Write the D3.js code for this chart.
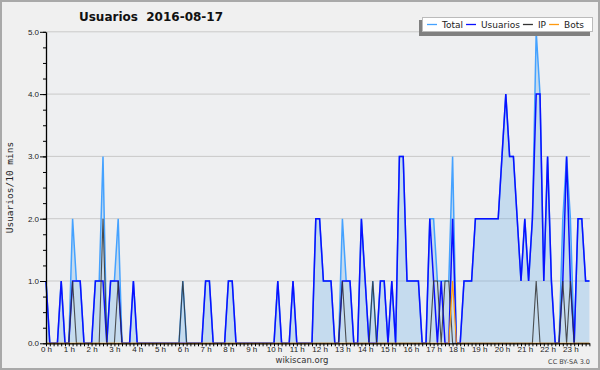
<!DOCTYPE html>
<html>
<head>
<meta charset="utf-8">
<script src="https://cdn.jsdelivr.net/npm/d3@7"></script>
<style>
  body { margin: 0; background: #f0f0f0; }
  svg { display: block; font-family: "DejaVu Sans", sans-serif; }
</style>
</head>
<body>
<svg id="chart"></svg>
<script>
// one value per 10 minutes, 00:00 .. 23:50 (6 per hour)
var total = [
  1,0,0,0,1,0,  0,2,1,1,0,0,  0,1,1,3,0,1,  1,2,0,0,0,1,   // 0-3 h
  0,0,0,0,0,0,  0,0,0,0,0,0,  1,0,0,0,0,0,  1,1,0,0,0,0,   // 4-7 h
  1,1,0,0,0,0,  0,0,0,0,0,0,  0,1,0,0,0,1,  0,0,0,0,0,2,   // 8-11 h
  2,1,1,1,0,0,  2,1,1,0,0,2,  1,0,1,0,1,1,  0,1,0,3,3,1,   // 12-15 h
  1,1,1,0,0,2,  2,1,1,1,1,3,  0,0,1,1,1,2,  2,2,2,2,2,2,   // 16-19 h
  3,4,3,3,2,1,  2,1,2,5,4,1,  3,1,0,0,2,3,  2,0,2,2,1,1    // 20-23 h
];
var usuarios = [
  1,0,0,0,1,0,  0,1,1,1,0,0,  0,1,1,1,0,1,  1,1,0,0,0,1,
  0,0,0,0,0,0,  0,0,0,0,0,0,  0,0,0,0,0,0,  1,1,0,0,0,0,
  1,1,0,0,0,0,  0,0,0,0,0,0,  0,1,0,0,0,1,  0,0,0,0,0,2,
  2,1,1,1,0,0,  1,1,1,0,0,2,  1,0,0,0,1,1,  0,1,0,3,3,1,
  1,1,1,0,0,2,  1,0,1,0,0,2,  0,0,1,1,1,2,  2,2,2,2,2,2,
  3,4,3,3,2,1,  2,1,2,4,4,1,  3,1,0,0,1,3,  1,0,2,2,1,1
];
var ip = [
  0,0,0,0,0,0,  0,1,0,0,0,0,  0,0,0,2,0,0,  0,1,0,0,0,0,
  0,0,0,0,0,0,  0,0,0,0,0,0,  1,0,0,0,0,0,  0,0,0,0,0,0,
  0,0,0,0,0,0,  0,0,0,0,0,0,  0,0,0,0,0,0,  0,0,0,0,0,0,
  0,0,0,0,0,0,  1,0,0,0,0,0,  0,0,1,0,0,0,  0,0,0,0,0,0,
  0,0,0,0,0,0,  1,1,0,1,1,0,  0,0,0,0,0,0,  0,0,0,0,0,0,
  0,0,0,0,0,0,  0,0,0,1,0,0,  0,0,0,0,1,0,  1,0,0,0,0,0
];
var bots = [
  0,0,0,0,0,0,  0,0,0,0,0,0,  0,0,0,0,0,0,  0,0,0,0,0,0,
  0,0,0,0,0,0,  0,0,0,0,0,0,  0,0,0,0,0,0,  0,0,0,0,0,0,
  0,0,0,0,0,0,  0,0,0,0,0,0,  0,0,0,0,0,0,  0,0,0,0,0,0,
  0,0,0,0,0,0,  0,0,0,0,0,0,  0,0,0,0,0,0,  0,0,0,0,0,0,
  0,0,0,0,0,0,  0,0,0,0,0,1,  0,0,0,0,0,0,  0,0,0,0,0,0,
  0,0,0,0,0,0,  0,0,0,0,0,0,  0,0,0,0,0,0,  0,0,0,0,0,0
];
var hourLabels = ["0 h","1 h","2 h","3 h","4 h","5 h","6 h","7 h","8 h","9 h","10 h","11 h",
  "12 h","13 h","14 h","15 h","16 h","17 h","18 h","19 h","20 h","21 h","22 h","23 h"];
var yTicks = [0, 1, 2, 3, 4, 5];
var seriesNames = ["Total", "Usuarios", "IP", "Bots"];
var seriesColors = ["#45a2ff", "#0a10ff", "#333333", "#ff9a10"];

var width = 600, height = 370;
var svg = d3.select("#chart").attr("width", width).attr("height", height);

svg.append("rect")
  .attr("x", 1).attr("y", 1)
  .attr("width", width - 2).attr("height", height - 2)
  .attr("fill", "#f0f0f0")
  .attr("stroke", "#a9a9a9")
  .attr("stroke-width", 2);

// minutes since midnight for each slot
var slots = total.map(function(d, i) { return i * 10; });

var x = d3.scaleLinear().domain([0, 1430]).range([46, 589.4]);
var y = d3.scaleLinear().domain([0, 5]).range([343.3, 31.8]);

svg.append("rect")
  .attr("x", x(0)).attr("y", y(5))
  .attr("width", 590 - x(0)).attr("height", y(0) - y(5))
  .attr("fill", "#eeeff1");

// gridlines
svg.append("g")
  .selectAll("line")
  .data(yTicks.slice(1))
  .enter()
  .append("line")
  .attr("x1", x(0)).attr("x2", 590)
  .attr("y1", function(d) { return y(d); })
  .attr("y2", function(d) { return y(d); })
  .attr("stroke", "#c9c9c9")
  .attr("stroke-width", 1);

var area = d3.area()
  .x(function(d, i) { return x(slots[i]); })
  .y0(y(0))
  .y1(function(d) { return y(d); });

svg.append("path")
  .datum(total)
  .attr("d", area)
  .attr("fill", "#66ade8")
  .attr("fill-opacity", 0.3);

var line = d3.line()
  .x(function(d, i) { return x(slots[i]); })
  .y(function(d) { return y(d); });

var series = [total, usuarios, ip, bots];
var widths = [1.5, 1.5, 1.1, 1.2];
series.forEach(function(s, k) {
  svg.append("path")
    .datum(s)
    .attr("d", line)
    .attr("fill", "none")
    .attr("stroke", seriesColors[k])
    .attr("stroke-width", widths[k])
    .attr("stroke-opacity", k == 2 ? 0.85 : 1)
    .attr("stroke-linejoin", "miter");
});

// axes
var xAxis = svg.append("g")
  .attr("transform", "translate(0," + y(0) + ")")
  .call(d3.axisBottom(x)
    .tickValues(slots)
    .tickSize(3)
    .tickSizeOuter(0)
    .tickPadding(0.5)
    .tickFormat(function(d) { return d % 60 == 0 ? hourLabels[d / 60] : ""; }));
xAxis.select(".domain").attr("stroke", "#000").attr("stroke-width", 1.3);
xAxis.selectAll("line").attr("stroke", "#000");
xAxis.selectAll("text").style("font-size", "8px").attr("fill", "#222");

var yMinor = svg.append("g")
  .attr("transform", "translate(" + x(0) + ",0)")
  .call(d3.axisLeft(y)
    .tickValues(d3.range(0, 5.01, 0.25))
    .tickSize(3)
    .tickSizeOuter(0)
    .tickFormat(""));
yMinor.select(".domain").remove();

var yAxis = svg.append("g")
  .attr("transform", "translate(" + x(0) + ",0)")
  .call(d3.axisLeft(y)
    .tickValues(yTicks)
    .tickSize(6)
    .tickSizeOuter(0)
    .tickPadding(1)
    .tickFormat(d3.format(".1f")));
yAxis.select(".domain").attr("stroke", "#000").attr("stroke-width", 1.3);
yAxis.selectAll("text").style("font-size", "8px").attr("fill", "#222");

// title
svg.append("text")
  .attr("x", 151).attr("y", 21)
  .attr("text-anchor", "middle")
  .style("font-size", "12px")
  .style("font-weight", "bold")
  .style("white-space", "pre")
  .attr("fill", "#111")
  .text("Usuarios  2016-08-17");

svg.append("text")
  .attr("transform", "translate(13," + (y(0) + y(5)) / 2 + ") rotate(-90)")
  .attr("text-anchor", "middle")
  .style("font-family", "'DejaVu Sans Mono', monospace")
  .style("font-size", "9.5px")
  .attr("fill", "#222")
  .text("Usuarios/10 mins");

svg.append("text")
  .attr("x", 302).attr("y", 363)
  .attr("text-anchor", "middle")
  .style("font-size", "8.5px")
  .attr("fill", "#333")
  .text("wikiscan.org");

svg.append("text")
  .attr("x", 590).attr("y", 364)
  .attr("text-anchor", "end")
  .style("font-size", "6.5px")
  .attr("fill", "#444")
  .text("CC BY-SA 3.0");

// legend
var legend = svg.append("g");
legend.append("rect")
  .attr("x", 419).attr("y", 20).attr("width", 171).attr("height", 16)
  .attr("fill", "#808080");
legend.append("rect")
  .attr("x", 422.5).attr("y", 17.5).attr("width", 170).attr("height", 14)
  .attr("fill", "#ffffff")
  .attr("stroke", "#bbbbbb");

var lx = 427;
seriesNames.forEach(function(name, k) {
  legend.append("line")
    .attr("x1", lx).attr("x2", lx + 10)
    .attr("y1", 24.5).attr("y2", 24.5)
    .attr("stroke", seriesColors[k])
    .attr("stroke-width", 1.3);
  var t = legend.append("text")
    .attr("x", lx + 15).attr("y", 28)
    .style("font-size", "9px")
    .attr("fill", "#222")
    .text(name);
  lx = lx + 15 + t.node().getComputedTextLength() + 3;
});
</script>
</body>
</html>
